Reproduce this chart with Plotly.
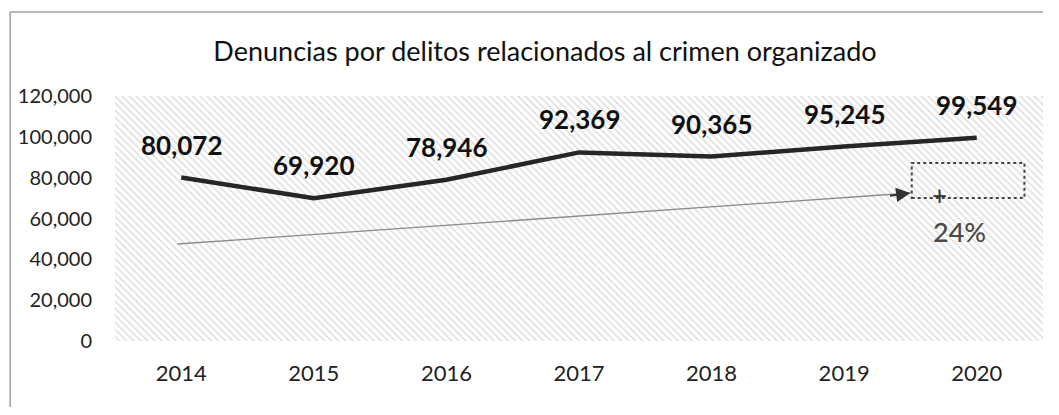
import plotly.graph_objects as go

years = [2014, 2015, 2016, 2017, 2018, 2019, 2020]
year_labels = ["2014", "2015", "2016", "2017", "2018", "2019", "2020"]
denuncias = [80072, 69920, 78946, 92369, 90365, 95245, 99549]
value_labels = ["80,072", "69,920", "78,946", "92,369", "90,365", "95,245", "99,549"]
y_ticks = [0, 20000, 40000, 60000, 80000, 100000, 120000]
y_tick_labels = ["0", "20,000", "40,000", "60,000", "80,000", "100,000", "120,000"]

# decorative trend arrow (start/end) and growth callout
arrow_x = [2013.97, 2019.5]
arrow_y = [47500, 72500]
box_x = [2019.51, 2020.36]
box_y = [70000, 87200]
growth_text = "24%"
growth_pos = [2019.87, 53400]
plus_pos = [2019.72, 71300]

FONT = "Lato"

fig = go.Figure()

# hatched plot background
fig.add_trace(go.Bar(
    x=years, y=[y_ticks[-1]] * len(years), width=1,
    marker=dict(color="white", line=dict(width=0),
                pattern=dict(shape="\\", fgcolor="#bdbdbd", bgcolor="white",
                             size=5, solidity=0.3)),
    hoverinfo="skip", showlegend=False,
))

# trend line (thin gray)
fig.add_trace(go.Scatter(
    x=arrow_x, y=arrow_y, mode="lines",
    line=dict(color="#8a8a8a", width=1.3),
    hoverinfo="skip", showlegend=False,
))

# main series
fig.add_trace(go.Scatter(
    x=years, y=denuncias, mode="lines",
    line=dict(color="#262626", width=4.5),
    showlegend=False,
))

annotations = []
for xv, yv, t in zip(years, denuncias, value_labels):
    annotations.append(dict(
        x=xv, y=yv, xref="x", yref="y", text=t, showarrow=False,
        yanchor="middle", yshift=33,
        font=dict(family=FONT, size=26, color="#111111", weight="bold"),
    ))

# arrowhead at the end of the trend line
annotations.append(dict(
    x=arrow_x[1], y=arrow_y[1], xref="x", yref="y",
    ax=-22, ay=3, text="", showarrow=True,
    arrowhead=2, arrowsize=1.3, arrowwidth=2.2, arrowcolor="#333333",
    standoff=0,
))
annotations.append(dict(
    x=growth_pos[0], y=growth_pos[1], xref="x", yref="y", text=growth_text,
    showarrow=False, font=dict(family=FONT, size=27, color="#4a4a4a", weight=500),
))
annotations.append(dict(
    x=plus_pos[0], y=plus_pos[1], xref="x", yref="y", text="+",
    showarrow=False, font=dict(family=FONT, size=26, color="#333333"),
))

shapes = [
    dict(type="rect", xref="x", yref="y",
         x0=box_x[0], x1=box_x[1], y0=box_y[0], y1=box_y[1],
         line=dict(color="#444444", width=2, dash="dot")),
    # outer frame: top and left edges
    dict(type="line", xref="paper", yref="paper",
         x0=-0.113, x1=1.2, y0=1.343, y1=1.343,
         line=dict(color="#a0a0a0", width=1.5), layer="below"),
    dict(type="line", xref="paper", yref="paper",
         x0=-0.113, x1=-0.113, y0=-0.5, y1=1.343,
         line=dict(color="#a0a0a0", width=1.5), layer="below"),
]

# page body has an 8px margin: size the figure so the page does not overflow
fig.update_layout(
    width=1035, height=399,
    margin=dict(l=107, r=0, t=88, b=66),
    paper_bgcolor="white", plot_bgcolor="white",
    bargap=0,
    title=dict(text="Denuncias por delitos relacionados al crimen organizado",
               x=537 / 1035, xanchor="center", y=1 - 44 / 399, yanchor="middle",
               font=dict(family=FONT, size=27, color="#111111")),
    font=dict(family=FONT, color="#222222"),
    annotations=annotations, shapes=shapes,
    xaxis=dict(range=[2013.5, 2020.5], tickvals=years, ticktext=year_labels,
               showgrid=True, gridcolor="#d0d0d0", gridwidth=1,
               minor=dict(dtick=0.5, tick0=2013.5, showgrid=True, gridcolor="#d0d0d0"),
               zeroline=False, showline=False,
               tickfont=dict(family=FONT, size=22, color="#222222"),
               ticklabelstandoff=17),
    yaxis=dict(range=[0, 120000], tickvals=y_ticks, ticktext=y_tick_labels,
               showgrid=True, gridcolor="#d0d0d0", gridwidth=1,
               zeroline=False, showline=False,
               tickfont=dict(family=FONT, size=20, color="#222222"),
               ticklabelstandoff=22),
)

fig.write_html("out.html")
